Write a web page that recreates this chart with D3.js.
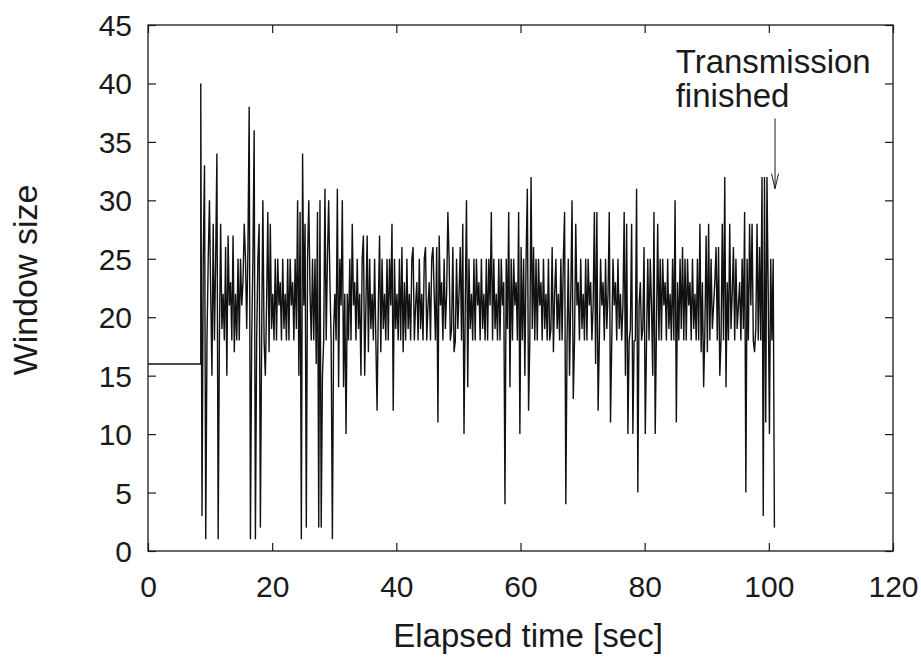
<!DOCTYPE html>
<html>
<head>
<meta charset="utf-8">
<script src="https://cdn.jsdelivr.net/npm/d3@7"></script>
<style>
  body { margin: 0; background: #fff; }
  text { font-family: "Liberation Sans", Arial, Helvetica, sans-serif; fill: #1a1a1a; }
</style>
</head>
<body>
<div id="chart-area"></div>
<script>
// data
var xTicks = [0, 20, 40, 60, 80, 100, 120];
var yTicks = [0, 5, 10, 15, 20, 25, 30, 35, 40, 45];

// window is 16 until the transfer starts
var initialWindow = 16;
var startTime = 8.5;   // sec
var sampleStep = 0.2;  // sec between samples

// window size samples, 25 per row (5 sec per row)
var windowSize = [
  40,3,25,33,1,18,25,30,22,15,28,18,25,34,1,18,28,19,22,18,26,15,27,21,23,
  18,27,17,22,18,25,18,25,21,23,28,25,19,26,38,1,18,25,36,1,18,25,28,2,18,
  30,18,15,21,29,17,28,19,22,18,25,18,25,21,23,18,25,19,22,18,25,18,25,21,23,
  18,25,19,30,15,29,1,34,21,28,2,25,30,22,18,25,18,25,16,29,2,30,2,15,18,
  31,18,25,30,23,18,1,19,22,18,31,14,25,21,30,14,22,10,22,18,25,18,28,21,23,
  18,25,19,22,15,25,27,15,21,27,17,25,19,22,18,25,18,12,21,27,17,25,19,22,18,
  25,18,25,21,28,12,25,19,22,18,25,18,26,17,23,18,25,19,22,18,25,26,18,21,23,
  18,25,19,22,18,25,26,18,21,23,18,25,26,22,18,26,11,27,21,23,18,25,19,22,29,
  25,18,19,26,17,18,25,19,22,26,18,28,10,21,30,14,25,19,22,18,25,18,25,21,23,
  18,25,19,22,18,25,18,25,21,29,18,25,19,22,18,25,18,25,21,23,4,25,19,29,14,
  25,18,25,21,23,18,29,10,26,18,25,15,25,31,12,18,32,19,26,18,25,18,25,21,23,
  18,25,19,22,18,25,18,19,26,17,22,25,19,22,18,25,18,25,29,4,18,25,15,22,30,
  13,18,28,21,23,18,25,19,22,18,25,18,25,21,23,18,21,29,16,29,12,18,25,21,23,
  18,25,19,22,29,11,18,25,21,23,18,25,19,22,18,21,29,15,28,10,18,19,28,10,18,
  18,31,5,21,23,18,19,26,10,18,25,18,25,21,15,29,10,19,28,18,25,18,25,21,23,
  18,25,19,22,18,25,18,30,11,23,18,25,19,26,18,25,18,25,21,23,18,25,19,22,18,
  25,18,28,17,23,14,19,27,17,28,18,25,19,21,23,26,18,26,15,18,28,18,32,14,23,
  18,28,19,22,26,18,25,19,21,23,18,25,19,29,5,25,18,28,21,28,18,17,19,28,18,
  26,18,32,3,32,11,32,22,10,25,18,25,2
];

// annotation
var noteLines = ["Transmission", "finished"];
var noteTime = 85;
var noteValues = [40.9, 38.0];
var arrowTime = 101;
var arrowFrom = 37;
var arrowTo = 31;

var margin = { left: 148, right: 28, top: 25, bottom: 108 };
var width = 921 - margin.left - margin.right,
    height = 659 - margin.top - margin.bottom;

var svg = d3.select("#chart-area")
    .append("svg")
    .attr("width", 921)
    .attr("height", 659);

var g = svg.append("g")
    .attr("transform", "translate(" + margin.left + "," + margin.top + ")");

// Scales
var x = d3.scaleLinear().domain([0, 120]).range([0, width]);
var y = d3.scaleLinear().domain([0, 45]).range([height, 0]);

// build points
var points = [[0, initialWindow], [startTime, initialWindow]];
windowSize.forEach(function(v, i) {
    points.push([startTime + i * sampleStep, v]);
});

var line = d3.line()
    .x(function(d) { return x(d[0]); })
    .y(function(d) { return y(d[1]); });

g.append("path")
    .datum(points)
    .attr("fill", "none")
    .attr("stroke", "#111")
    .attr("stroke-width", 1.4)
    .attr("stroke-linejoin", "bevel")
    .attr("d", line);

// Axes (ticks inside, mirrored)
var xAxis = g.append("g")
    .attr("transform", "translate(0," + height + ")")
    .call(d3.axisBottom(x).tickValues(xTicks).tickSize(-8).tickPadding(25));
var yAxis = g.append("g")
    .call(d3.axisLeft(y).tickValues(yTicks).tickSize(-8).tickPadding(16));
g.append("g")
    .call(d3.axisTop(x).tickValues(xTicks).tickSize(-8).tickFormat(""));
g.append("g")
    .attr("transform", "translate(" + width + ",0)")
    .call(d3.axisRight(y).tickValues(yTicks).tickSize(-8).tickFormat(""));

g.selectAll(".domain").remove();
g.selectAll(".tick line").attr("stroke", "#1a1a1a").attr("stroke-width", 1.2);
g.selectAll(".tick text")
    .attr("font-size", "30px")
    .attr("font-family", "Liberation Sans, Arial, sans-serif")
    .attr("fill", "#1a1a1a");
yAxis.selectAll(".tick text").attr("dy", "0.35em");

// frame
g.append("rect")
    .attr("x", 0).attr("y", 0)
    .attr("width", width).attr("height", height)
    .attr("fill", "none")
    .attr("stroke", "#1a1a1a")
    .attr("stroke-width", 1.3);

// Labels
svg.append("text")
    .attr("x", 528)
    .attr("y", 647)
    .attr("font-size", "33px")
    .attr("text-anchor", "middle")
    .text("Elapsed time [sec]");

svg.append("text")
    .attr("transform", "translate(37,280) rotate(-90)")
    .attr("font-size", "34px")
    .attr("text-anchor", "middle")
    .text("Window size");

// annotation
noteLines.forEach(function(t, i) {
    g.append("text")
        .attr("x", x(noteTime))
        .attr("y", y(noteValues[i]))
        .attr("font-size", "33px")
        .text(t);
});

var ax = x(arrowTime), ay0 = y(arrowFrom), ay1 = y(arrowTo);
g.append("path")
    .attr("d", "M" + ax + "," + ay0 + "L" + ax + "," + ay1 +
        "M" + (ax - 3.5) + "," + (ay1 - 15) + "L" + ax + "," + ay1 + "L" + (ax + 3.5) + "," + (ay1 - 15))
    .attr("fill", "none")
    .attr("stroke", "#1a1a1a")
    .attr("stroke-width", 1);
</script>
</body>
</html>
